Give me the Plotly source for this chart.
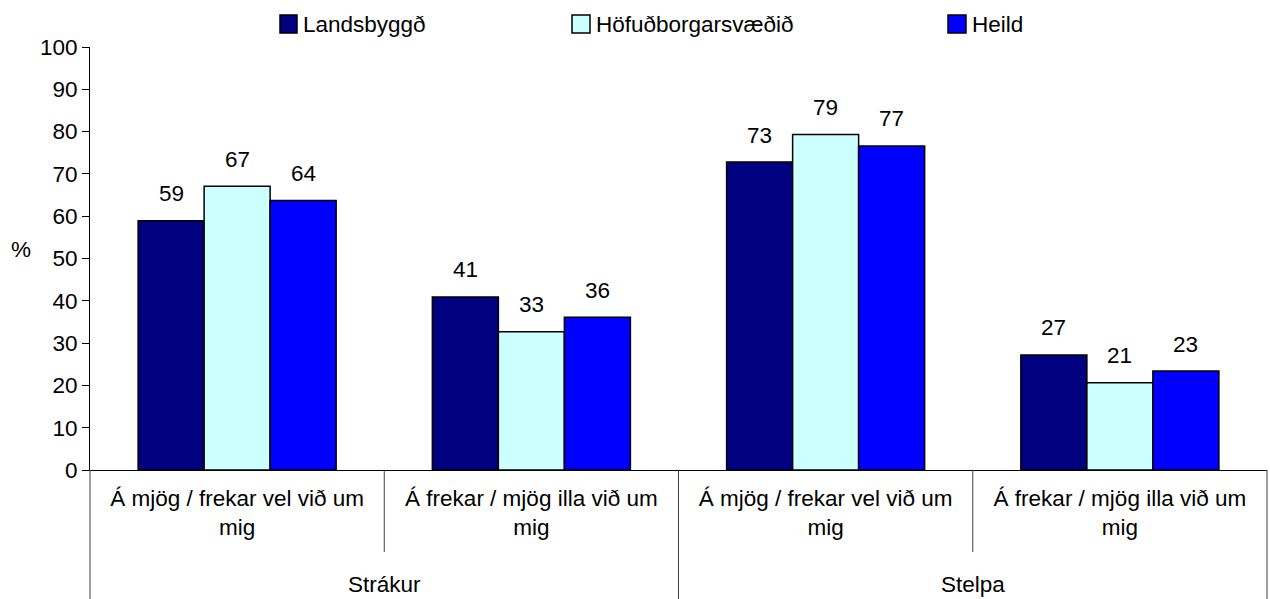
import plotly.graph_objects as go

# ---- data ----
answers = ["Á mjög / frekar vel við um<br>mig", "Á frekar / mjög illa við um<br>mig",
           "Á mjög / frekar vel við um<br>mig", "Á frekar / mjög illa við um<br>mig"]
outer_labels = ["Strákur", "Stelpa"]
series_names = ["Landsbyggð", "Höfuðborgarsvæðið", "Heild"]
landsbyggd = [58.9, 40.9, 72.8, 27.2]
hofudborg = [67.1, 32.7, 79.3, 20.6]
heild = [63.7, 36.1, 76.6, 23.4]
y_ticks = [0, 10, 20, 30, 40, 50, 60, 70, 80, 90, 100]

series_values = [landsbyggd, hofudborg, heild]
colors = ["#000080", "#CCFFFF", "#0000FF"]

FONT = "Liberation Sans, Arial, sans-serif"
FS = 22.5
W, H = 1270, 599
L, R, T, B = 90, 3, 47, 129
BARGAP = 0.327

pw = W - L - R
ph = H - T - B


def px_x(p):
    return (p - L) / pw


def px_y(p):
    return (H - B - p) / ph


xpos = list(range(len(answers)))

fig = go.Figure()
for name, vals, col in zip(series_names, series_values, colors):
    fig.add_trace(go.Bar(
        x=xpos, y=vals, name=name,
        marker=dict(color=col, line=dict(color="black", width=1.5)),
        showlegend=False,
    ))

# value labels
bw = (1 - BARGAP) / len(series_names)
annotations = []
for k, vals in enumerate(series_values):
    off = (k - (len(series_names) - 1) / 2) * bw
    for i, v in enumerate(vals):
        annotations.append(dict(
            x=i + off, y=v, xref="x", yref="y", text=f"{v:.0f}",
            showarrow=False, yanchor="middle", yshift=27,
            font=dict(family=FONT, size=FS, color="black")))

# outer category labels
for j, lab in enumerate(outer_labels):
    annotations.append(dict(
        x=2 * j + 0.5, y=px_y(584), xref="x", yref="paper", text=lab,
        showarrow=False, yanchor="middle",
        font=dict(family=FONT, size=FS, color="black")))

# y axis title
annotations.append(dict(
    x=px_x(21), y=px_y(249), xref="paper", yref="paper", text="%",
    showarrow=False, xanchor="center", yanchor="middle",
    font=dict(family=FONT, size=FS, color="black")))

# manual legend
legend_sq = [(280, 297), (572, 590), (948, 966)]
shapes = []
for (x0, x1), name, col in zip(legend_sq, series_names, colors):
    shapes.append(dict(type="rect", xref="paper", yref="paper",
                       x0=px_x(x0), x1=px_x(x1), y0=px_y(33), y1=px_y(15),
                       fillcolor=col, line=dict(color="black", width=1.5)))
    annotations.append(dict(
        x=px_x(x1 + 4), y=px_y(24), xref="paper", yref="paper", text=name,
        showarrow=False, xanchor="left", yanchor="middle",
        font=dict(family=FONT, size=FS, color="black")))

# category dividers
line_style = dict(color="#404040", width=1)
for i in range(1, len(answers)):
    y_end = px_y(552) if i % 2 == 1 else px_y(599)
    shapes.append(dict(type="line", xref="x", yref="paper",
                       x0=i - 0.5, x1=i - 0.5, y0=0, y1=y_end,
                       line=line_style))
for xp in (0, 1):
    shapes.append(dict(type="line", xref="paper", yref="paper",
                       x0=xp, x1=xp, y0=0, y1=px_y(599), line=line_style))

fig.update_layout(
    width=W, height=H,
    margin=dict(l=L, r=R, t=T, b=B, pad=0),
    paper_bgcolor="white", plot_bgcolor="white",
    barmode="group", bargap=BARGAP, bargroupgap=0,
    font=dict(family=FONT, size=FS, color="black"),
    annotations=annotations, shapes=shapes,
    xaxis=dict(
        range=[-0.5, len(answers) - 0.5],
        tickmode="array", tickvals=xpos, ticktext=answers,
        showline=True, linecolor="black", linewidth=1,
        ticks="", showgrid=False, zeroline=False,
        ticklabelstandoff=8,
        tickfont=dict(family=FONT, size=FS, color="black"),
        fixedrange=True,
    ),
    yaxis=dict(
        range=[0, 100], tickmode="array", tickvals=y_ticks,
        showline=True, linecolor="black", linewidth=1,
        ticks="outside", ticklen=7, tickcolor="black",
        showgrid=False, zeroline=False,
        tickfont=dict(family=FONT, size=FS, color="black"),
        fixedrange=True,
    ),
)

fig.write_html(
    "out.html",
    config={"displayModeBar": False, "staticPlot": True},
    post_script="document.body.style.margin='0';document.body.style.overflow='hidden';",
)
